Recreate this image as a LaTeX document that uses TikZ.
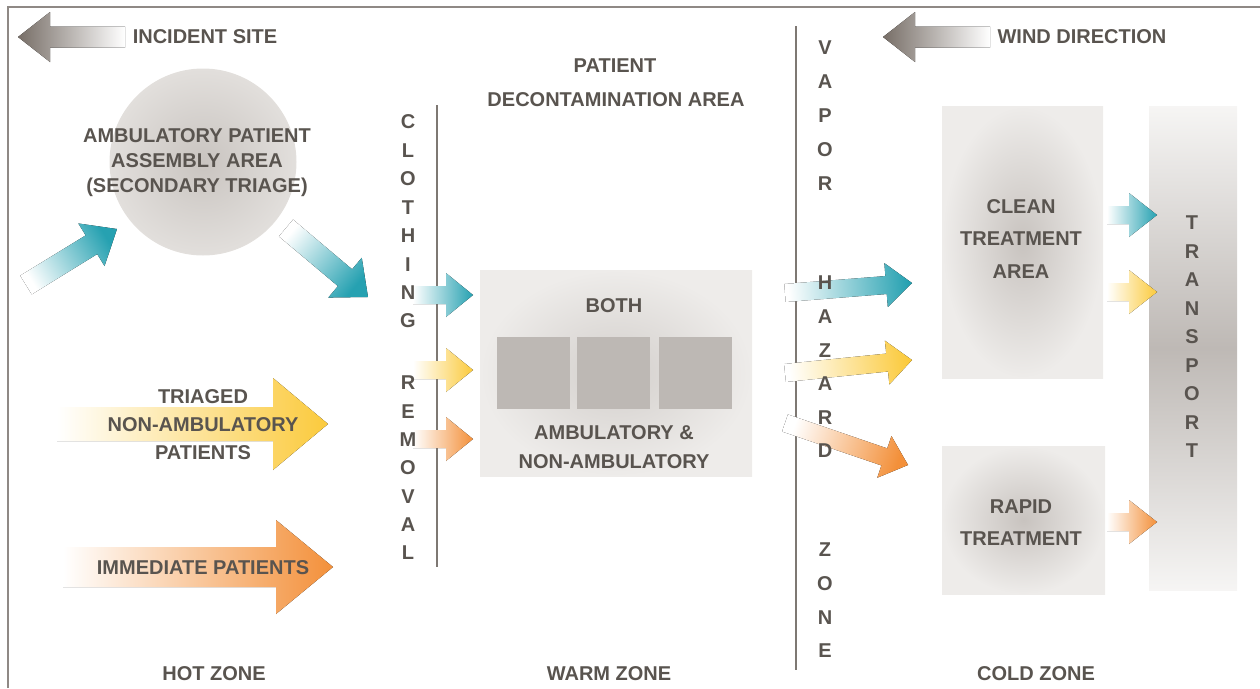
\documentclass[tikz,border=0pt]{standalone}
\usepackage{fontspec}
\setmainfont{Liberation Sans}
\definecolor{txt}{HTML}{59544F}
\definecolor{tealc}{HTML}{26A1B1}
\definecolor{yelc}{HTML}{FBCA3C}
\definecolor{orac}{HTML}{F3903A}
\definecolor{garr}{HTML}{776E67}
\definecolor{linec}{HTML}{7E7873}
\definecolor{framec}{HTML}{8F8985}
\definecolor{sqc}{HTML}{BDB8B4}
\definecolor{boxin}{HTML}{C8C3BF}
\definecolor{boxout}{HTML}{EEECEA}
\definecolor{circin}{HTML}{C9C4C0}
\definecolor{circout}{HTML}{E2DFDC}
\definecolor{trmid}{HTML}{BEB9B5}
\definecolor{trend}{HTML}{F6F5F4}
% gradient arrow: tail x,y ; tip x,y ; colour ; shaft half ; head half ; head length
\newcommand{\garrow}[8]{%
  \pgfmathsetmacro{\gdx}{#3-#1}%
  \pgfmathsetmacro{\gdy}{#4-#2}%
  \pgfmathsetmacro{\gang}{atan2(-\gdy,\gdx)}%
  \pgfmathsetmacro{\gshang}{90+\gang}%
  \pgfmathsetmacro{\glen}{veclen(\gdx,\gdy)}%
  \pgfmathsetmacro{\gneck}{\glen-#8}%
  \begin{scope}[shift={(#1,#2)}, rotate=\gang]
    \fill[left color=white, right color=#5, shading angle=\gshang]
      (0,#6) -- (\gneck,#6) -- (\gneck,#7) -- (\glen,0) -- (\gneck,-#7)
      -- (\gneck,-#6) -- (0,-#6) -- cycle;
  \end{scope}}
\begin{document}
\begin{tikzpicture}[x=1pt,y=-1pt,
  lbl/.style={font=\fontsize{20}{24}\selectfont\bfseries, text=txt, inner sep=0pt, align=center},
  area/.style={inner sep=0pt, inner color=boxin, outer color=boxout},
  vline/.style={draw=linec, line width=1.6pt},
  frameline/.style={draw=framec, line width=1.6pt}]
\useasboundingbox (0,0) rectangle (1260,688);
% frame
\draw[frameline] (8,688) -- (8,7) -- (1260,7);
% zone dividers
\coordinate (c1) at (437,105); \coordinate (c2) at (437,567);
\coordinate (v1) at (796,26); \coordinate (v2) at (796,670);
\draw[vline] (c1) -- (c2);
\draw[vline] (v1) -- (v2);
% areas
\node[area, circle, minimum size=187pt, inner color=circin, outer color=circout] (assembly) at (203,162) {};
\node[area, minimum width=272pt, minimum height=206pt, inner color=boxin!80!white] (decon) at (616,373) {};
\node[fill=sqc, minimum width=73pt, minimum height=72pt, inner sep=0pt] (sq1) at (533.5,373) {};
\node[fill=sqc, minimum width=73pt, minimum height=72pt, inner sep=0pt] (sq2) at (613.5,373) {};
\node[fill=sqc, minimum width=73pt, minimum height=72pt, inner sep=0pt] (sq3) at (695.5,373) {};
\node[area, minimum width=161pt, minimum height=272pt] (clean) at (1022.5,242) {};
\node[area, minimum width=163pt, minimum height=148pt] (rapid) at (1023.5,520) {};
\node[inner sep=0pt, minimum width=88pt, minimum height=484pt, top color=trend, bottom color=trend, middle color=trmid] (transport) at (1193,348) {};
% arrows
\garrow{125}{37}{18}{37}{garr}{10.5}{25}{32}
\garrow{990}{37}{883}{37}{garr}{10.5}{25}{32}
\garrow{26}{285}{117}{229}{tealc}{11}{25}{30}
\garrow{286}{228}{368}{297}{tealc}{11}{26}{30}
\garrow{57}{424}{328}{424}{yelc}{17}{46}{55}
\garrow{63}{567}{333}{567}{orac}{20}{47}{57}
\garrow{413}{295}{473}{295}{tealc}{9}{22}{27}
\garrow{413}{370}{473}{370}{yelc}{9}{22}{27}
\garrow{413}{439}{473}{439}{orac}{9}{22}{27}
\garrow{785}{293}{912}{283}{tealc}{9}{22}{26}
\garrow{785}{373}{912}{360}{yelc}{9}{22}{25}
\garrow{785}{423}{908}{465}{orac}{9}{22}{25}
\garrow{1107}{215}{1157}{215}{tealc}{9}{22}{28}
\garrow{1107}{292}{1157}{292}{yelc}{9}{22}{28}
\garrow{1107}{522}{1157}{522}{orac}{9}{22}{28}
% texts
\node[lbl] (incident) at (205,37) {INCIDENT SITE};
\node[lbl] (wind) at (1082,37) {WIND DIRECTION};
\node[lbl, font=\fontsize{20}{25}\selectfont\bfseries] (assemblytxt) at (197,163) {AMBULATORY PATIENT\\ASSEMBLY AREA\\(SECONDARY TRIAGE)};
\node[lbl] (patient) at (615,66) {PATIENT};
\node[lbl] (deconarea) at (616,100) {DECONTAMINATION AREA};
\node[lbl] (both) at (614,306) {BOTH};
\node[lbl, font=\fontsize{20}{29}\selectfont\bfseries] (ambnon) at (614,447) {AMBULATORY \&\\NON-AMBULATORY};
\node[lbl, font=\fontsize{20}{28}\selectfont\bfseries] (triaged) at (203,425) {TRIAGED\\NON-AMBULATORY\\PATIENTS};
\node[lbl] (immediate) at (203,568) {IMMEDIATE PATIENTS};
\node[lbl, font=\fontsize{20}{32.5}\selectfont\bfseries] (cleantxt) at (1021,239) {CLEAN\\TREATMENT\\AREA};
\node[lbl, font=\fontsize{20}{32}\selectfont\bfseries] (rapidtxt) at (1021,523) {RAPID\\TREATMENT};
\node[lbl] (hot) at (214,674) {HOT ZONE};
\node[lbl] (warm) at (609,674) {WARM ZONE};
\node[lbl] (cold) at (1036,674) {COLD ZONE};
% vertical words
\foreach \l [count=\i from 0] in {C,L,O,T,H,I,N,G}
  \node[lbl] (clo\i) at (408,{122+28.43*\i}) {\l};
\foreach \l [count=\i from 0] in {R,E,M,O,V,A,L}
  \node[lbl] (rem\i) at (408,{383+28.33*\i}) {\l};
\foreach \l [count=\i from 0] in {V,A,P,O,R}
  \node[lbl] (vap\i) at (825,{48+34*\i}) {\l};
\foreach \l [count=\i from 0] in {H,A,Z,A,R,D}
  \node[lbl] (haz\i) at (825,{283+33.6*\i}) {\l};
\foreach \l [count=\i from 0] in {Z,O,N,E}
  \node[lbl] (zon\i) at (825,{550+33.7*\i}) {\l};
\foreach \l [count=\i from 0] in {T,R,A,N,S,P,O,R,T}
  \node[lbl] (tra\i) at (1192,{223+28.5*\i}) {\l};
\end{tikzpicture}
\end{document}
